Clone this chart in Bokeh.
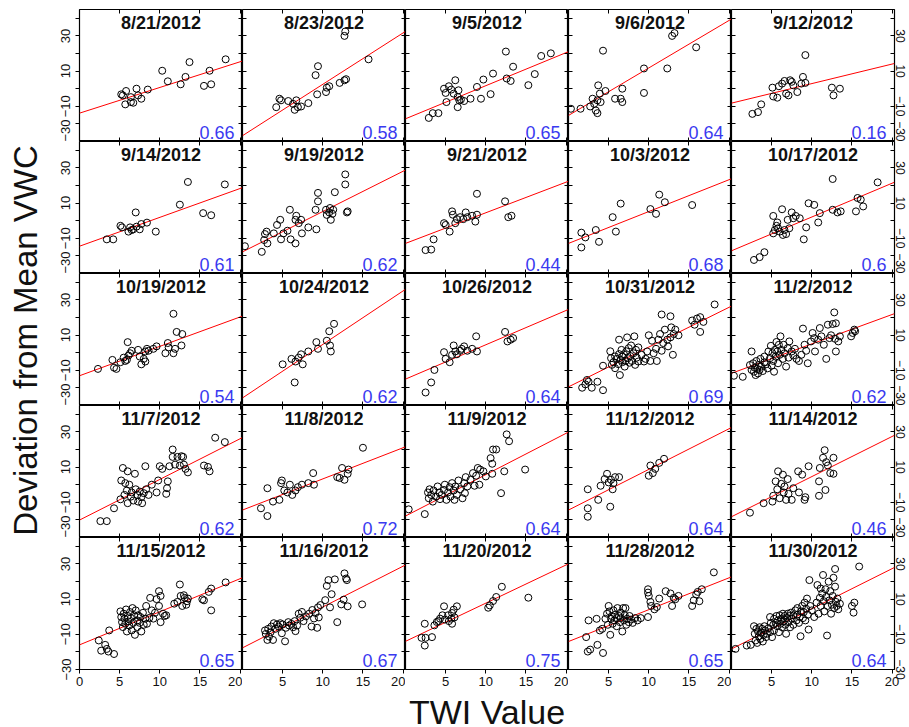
import math
from bokeh.plotting import figure
from bokeh.models import LinearAxis, FixedTicker, Range1d, Label
from bokeh.layouts import gridplot, row, column
from bokeh.embed import file_html
from bokeh.resources import INLINE

FONT = "Liberation Sans"

dates = ["8/21/2012", "8/23/2012", "9/5/2012", "9/6/2012", "9/12/2012",
         "9/14/2012", "9/19/2012", "9/21/2012", "10/3/2012", "10/17/2012",
         "10/19/2012", "10/24/2012", "10/26/2012", "10/31/2012", "11/2/2012",
         "11/7/2012", "11/8/2012", "11/9/2012", "11/12/2012", "11/14/2012",
         "11/15/2012", "11/16/2012", "11/20/2012", "11/28/2012", "11/30/2012"]
r_values = ["0.66", "0.58", "0.65", "0.64", "0.16",
            "0.61", "0.62", "0.44", "0.68", "0.6",
            "0.54", "0.62", "0.64", "0.69", "0.62",
            "0.62", "0.72", "0.64", "0.64", "0.46",
            "0.65", "0.67", "0.75", "0.65", "0.64"]
fit_intercept = [-13.9, -26.7, -17.1, -15.2, -8.2,
                 -14.5, -17.7, -12.9, -12.9, -17.1,
                 -13.1, -25.7, -15.0, -19.4, -11.7,
                 -20.1, -14.4, -17.8, -14.4, -18.2,
                 -16.0, -17.7, -14.0, -14.1, -18.3]
fit_slope = [1.46, 2.92, 1.88, 2.70, 1.11,
             1.64, 2.29, 1.74, 1.81, 1.92,
             1.67, 3.04, 1.95, 2.26, 1.67,
             2.31, 1.77, 2.35, 2.31, 2.28,
             1.88, 2.32, 2.17, 1.81, 2.28]

x_ticks_first = [0, 5, 10, 15, 20]
x_ticks_other = [5, 10, 15, 20]
y_ticks = [-30, -10, 10, 30]
y_minor = [-20, 0, 20, 40]

pts_0821 = [(10.3, 10.2), (11.0, 4.2), (12.6, 2.5), (13.2, 6.7), (13.7, 15.1), (15.5, 1.6), (16.2, 10.2),
            (16.4, 2.5), (18.2, 16.7), (7.1, 0.0), (8.5, -0.5), (5.4, -3.8), (5.8, -1.3), (6.4, -4.8),
            (7.3, -3.8), (7.7, -5.7), (5.7, -8.9), (6.4, -7.6), (6.7, -8.0), (5.2, -3.2)]
pts_0823 = [(4.2, -10.5), (4.6, -5.7), (4.8, -6.6), (5.7, -7.0), (6.3, -8.6), (6.7, -6.6), (6.5, -12.0),
            (6.9, -10.5), (7.3, -10.1), (8.2, -8.2), (9.1, 7.7), (9.4, 12.8), (9.3, -3.2), (10.4, -1.9),
            (10.5, 0.6), (10.8, 1.4), (12.1, 3.3), (12.7, 4.8), (12.9, 5.4), (12.7, 30.0), (12.8, 32.5),
            (15.7, 16.7)]
pts_0905 = [(2.9, -16.6), (3.4, -13.9), (4.1, -13.9), (4.8, 0.0), (5.0, -2.4), (5.1, -7.6), (5.4, 1.4),
            (5.7, -0.5), (6.0, -2.8), (6.2, 4.8), (6.5, -4.7), (6.6, -0.9), (6.7, -6.6), (6.5, -10.5),
            (6.9, -6.2), (7.3, -7.0), (8.1, -5.7), (8.9, 1.0), (9.4, -5.7), (9.7, 5.2), (10.6, -3.1),
            (10.9, 8.6), (12.5, 21.1), (12.6, 5.8), (13.1, 4.4), (13.4, 12.5), (15.3, 2.0), (16.1, 8.3),
            (16.9, 18.6), (18.1, 20.1)]
pts_0906 = [(0.3, -11.4), (1.5, -11.4), (2.7, -10.1), (3.0, -5.7), (3.2, -8.6), (3.4, -12.4), (3.6, -13.9),
            (3.6, -6.6), (3.7, 1.9), (3.9, -2.8), (4.0, -7.6), (4.3, 21.6), (4.6, -1.3), (5.8, -5.7),
            (6.5, -5.7), (6.7, -7.6), (6.7, 0.0), (9.4, 11.5), (9.4, -2.4), (12.3, 11.5), (12.9, 30.0),
            (13.2, 31.6), (15.9, 23.5)]
pts_0912 = [(2.6, -14.3), (3.3, -13.3), (3.7, -8.9), (5.1, 0.6), (5.2, -4.4), (5.7, -5.1), (5.9, 1.4),
            (6.3, 2.9), (6.6, 4.4), (6.8, -2.8), (7.1, -3.8), (7.3, 4.8), (7.5, 3.9), (7.7, 1.9),
            (8.2, -1.9), (8.7, 2.9), (8.9, 6.7), (9.2, 19.1), (9.2, 3.3), (12.5, 0.6), (12.7, -3.8),
            (13.5, 0.0)]
pts_0914 = [(3.4, -10.6), (4.2, -10.6), (5.1, -2.9), (5.3, -3.8), (6.1, -6.2), (6.3, -3.8), (6.5, -5.3),
            (6.7, -4.9), (7.0, 4.7), (7.1, -3.4), (7.5, -4.9), (7.7, -1.9), (8.4, -1.1), (9.5, -6.2),
            (12.5, 9.1), (13.5, 22.0), (15.4, 4.3), (16.4, 3.1), (18.1, 20.6)]
pts_0919 = [(0.3, -14.5), (2.4, -17.7), (2.7, -11.0), (2.8, -7.6), (3.0, -6.2), (3.1, -12.9), (3.9, -7.2),
            (4.3, -2.4), (4.7, 0.5), (4.8, -10.6), (5.1, -7.2), (5.6, -5.7), (5.9, 6.2), (6.0, -10.6),
            (6.6, 0.5), (6.6, -12.9), (6.7, 2.8), (7.0, -1.4), (7.3, 0.5), (7.4, -7.2), (8.2, -3.8),
            (9.2, -4.9), (9.1, 6.2), (9.4, 11.0), (9.4, 15.8), (10.4, 6.2), (10.5, 3.3), (10.8, 4.7),
            (10.9, 7.2), (11.0, 0.5), (11.2, 3.9), (11.3, 6.2), (11.5, 16.2), (12.8, 26.3), (12.8, 20.6),
            (13.0, 4.7), (13.1, 5.3)]
pts_0921 = [(2.5, -16.7), (3.2, -16.4), (3.5, -10.6), (4.8, -1.4), (5.0, -2.4), (5.5, -6.2), (5.8, 5.3),
            (5.9, 3.4), (6.2, -1.4), (6.4, 0.9), (6.8, 2.0), (7.2, 0.9), (7.5, 4.7), (7.7, 2.0),
            (8.3, 2.8), (8.7, -0.5), (8.9, 15.3), (8.9, 3.4), (12.4, 11.0), (12.8, 2.0), (13.2, 2.8)]
pts_1003 = [(1.6, -6.8), (1.6, -15.2), (2.1, -9.5), (3.4, -5.3), (3.8, -12.0), (5.5, 2.0), (5.9, -6.2),
            (6.5, 9.7), (10.2, 6.6), (10.9, 3.9), (11.3, 14.8), (12.0, 10.5), (15.4, 8.9)]
pts_1017 = [(2.8, -22.3), (3.5, -20.7), (4.1, -17.9), (5.2, 2.7), (5.2, -7.2), (5.4, -5.3), (5.6, -2.9),
            (5.7, -1.0), (5.8, -4.3), (6.0, -6.2), (6.3, 6.5), (6.4, -8.1), (6.6, -5.3), (6.8, -7.6),
            (7.0, 0.5), (7.2, -4.3), (7.5, 4.7), (7.7, 1.4), (8.0, 2.7), (8.5, 1.4), (9.0, -10.6),
            (9.3, -3.8), (9.6, 9.9), (10.3, 9.0), (10.8, -1.0), (11.0, 4.3), (12.6, 23.7), (12.6, 6.2),
            (13.2, 4.7), (13.6, 5.3), (15.5, 5.3), (15.7, 12.9), (16.1, 12.0), (16.4, 8.1), (18.2, 21.8)]
pts_1019 = [(2.3, -9.2), (4.1, -4.1), (4.3, -8.5), (4.6, -9.2), (5.1, -5.4), (5.5, -2.8), (5.7, -4.7),
            (6.0, 6.0), (6.1, -1.6), (6.3, -0.3), (6.5, 1.1), (5.9, -4.1), (7.3, 1.6), (7.5, -2.2),
            (7.7, -6.6), (8.0, -3.5), (8.2, -5.0), (8.2, 0.7), (8.4, 2.2), (8.6, 1.1), (9.2, 2.2),
            (9.6, 3.6), (10.7, -0.3), (11.0, 5.5), (11.1, 3.0), (11.7, -0.3), (11.7, 22.1), (11.9, 2.2),
            (12.1, 11.8), (12.8, 10.6), (12.7, 4.1)]
pts_1024 = [(5.0, -6.6), (6.1, -3.5), (6.5, -16.9), (6.6, -5.0), (7.0, -2.8), (7.3, -0.9), (7.5, -6.6),
            (8.2, 0.7), (9.2, 6.0), (9.4, 2.2), (10.5, 6.8), (10.8, 12.2), (10.9, 4.1), (11.0, 0.7),
            (11.4, 16.4)]
pts_1026 = [(2.5, -22.6), (3.2, -16.9), (3.6, -9.8), (4.8, 0.3), (5.0, -3.5), (5.5, -5.4), (5.8, -1.2),
            (6.0, 4.1), (6.2, 0.7), (6.4, -0.9), (6.8, 1.1), (7.0, 2.2), (7.3, 3.6), (7.7, 1.1),
            (8.3, 2.2), (8.8, 9.3), (8.9, 0.7), (12.4, 11.8), (12.7, 6.4), (13.1, 7.4), (13.4, 8.3)]
pts_1031 = [(1.7, -19.9), (2.1, -18.0), (2.5, -16.5), (2.9, -19.9), (2.3, -15.5), (3.6, -16.5), (4.3, -21.3),
            (4.3, -7.4), (5.2, 0.8), (5.3, -3.1), (5.4, -6.9), (5.6, -5.4), (5.8, -2.1), (5.8, -8.8),
            (6.0, -3.5), (6.2, -6.5), (6.3, 7.4), (6.3, -0.8), (6.4, -12.7), (6.5, -4.1), (6.6, 1.6),
            (6.7, -2.2), (6.7, -5.4), (6.9, -0.9), (7.0, -7.9), (7.1, -4.7), (7.2, 0.8), (7.3, 8.7),
            (7.4, -3.1), (7.5, 2.6), (7.6, -5.7), (7.7, -1.9), (7.8, 4.1), (7.9, -4.7), (8.1, -0.3),
            (8.2, 9.3), (8.3, -6.9), (8.4, 1.6), (8.5, -2.8), (8.7, 3.0), (8.7, -5.0), (9.1, -1.2),
            (9.4, -5.0), (9.6, -3.5), (9.8, 0.7), (10.0, 9.9), (10.2, -4.7), (10.4, 6.8), (10.6, -0.3),
            (10.9, 2.2), (11.0, -4.7), (11.2, 7.4), (11.4, 10.6), (11.6, 21.7), (11.6, 1.1), (11.8, 5.5),
            (12.0, 13.1), (12.3, 7.4), (12.4, 3.6), (12.7, 20.7), (12.7, 8.7), (12.8, 14.4), (13.0, -1.2),
            (13.1, 10.6), (13.3, 13.1), (13.7, 9.9), (15.4, 18.3), (15.7, 15.9), (16.0, 19.4), (16.4, 11.8),
            (16.4, 20.2), (16.8, 17.5), (18.2, 27.4)]
pts_1102 = [(0.3, -13.1), (1.4, -13.7), (2.3, -7.0), (2.5, -9.8), (2.5, 0.7), (2.7, -6.0), (2.8, -10.8),
            (2.9, -8.5), (3.0, -12.7), (3.1, -4.7), (3.2, -9.2), (3.3, -11.8), (3.4, -7.0), (3.5, -9.8),
            (3.6, -3.5), (3.7, -7.9), (3.9, -10.4), (4.1, -5.4), (4.1, -2.2), (4.3, -6.6), (4.5, -8.9),
            (4.6, 0.7), (4.8, -3.1), (4.9, 3.9), (5.0, -7.4), (5.1, -0.3), (5.2, -4.7), (5.3, -10.8),
            (5.4, 1.6), (5.5, -2.2), (5.6, 6.1), (5.7, 0.7), (5.8, -6.0), (5.9, 4.5), (6.0, -1.2),
            (6.1, 9.3), (6.2, 1.6), (6.4, -3.5), (6.5, 4.5), (6.6, -0.3), (6.8, -7.9), (7.0, 2.6),
            (7.1, -2.8), (7.2, 6.4), (7.5, 0.7), (7.7, -1.6), (7.9, 2.2), (8.1, -3.5), (8.4, -4.7),
            (8.7, -1.2), (8.9, 13.7), (9.1, 4.5), (9.3, 1.1), (9.5, -6.0), (9.9, 6.4), (10.1, 11.2),
            (10.3, 8.3), (10.4, 0.7), (10.8, 7.4), (11.0, 14.0), (11.2, 9.3), (11.5, 4.5), (11.8, -3.5),
            (12.0, 15.9), (12.2, 8.3), (12.4, 9.9), (12.6, 16.3), (12.8, 22.9), (12.9, 7.9), (13.0, 16.7),
            (13.0, 0.7), (13.3, 6.4), (13.5, 9.3), (14.9, 9.3), (15.1, 11.2), (15.3, 13.1), (15.4, 12.2)]
pts_1107 = [(2.6, -20.7), (3.4, -20.7), (4.3, -13.4), (5.1, -8.3), (5.2, 2.4), (5.4, 9.5), (5.6, -5.8),
            (5.7, 0.9), (5.9, -3.3), (6.0, -10.5), (6.0, 7.6), (6.2, 0.0), (6.4, -6.8), (6.5, -4.4),
            (6.7, -9.0), (6.9, 6.2), (7.0, -2.6), (7.2, -5.8), (7.3, -9.6), (7.5, -3.9), (7.7, -7.1),
            (7.8, -10.5), (8.0, -4.8), (8.2, 10.5), (8.3, -2.6), (8.6, -5.8), (9.0, 0.0), (9.6, -4.4),
            (9.8, 2.4), (10.0, 10.5), (10.3, 9.0), (10.8, -5.2), (10.9, -2.0), (11.0, 1.9), (11.2, 10.5),
            (11.6, 20.0), (11.6, 15.8), (11.9, 11.4), (12.2, 15.8), (12.5, 10.9), (12.7, 16.2), (12.9, 15.8),
            (13.0, 11.4), (13.2, 9.0), (13.5, 7.0), (15.5, 10.9), (16.0, 10.1), (16.2, 7.6), (16.9, 26.7),
            (18.1, 24.2)]
pts_1108 = [(2.3, -13.4), (3.1, -17.8), (3.1, -2.0), (3.8, -9.6), (4.6, -8.6), (4.8, 0.9), (4.9, 2.4),
            (5.2, -3.3), (5.6, -4.4), (5.9, 0.0), (6.2, -5.8), (6.6, -3.3), (6.9, -1.4), (7.4, 0.0),
            (8.2, 0.9), (8.8, 6.6), (8.9, 0.0), (11.8, 4.3), (12.1, 3.8), (12.4, 9.5), (12.7, 2.8),
            (13.1, 6.2), (13.2, 8.6), (15.0, 21.0)]
pts_1109 = [(0.4, -14.0), (2.4, -16.7), (2.8, -4.4), (2.9, -7.7), (3.0, -2.6), (3.2, -5.8), (3.4, -9.6),
            (3.5, -3.3), (3.8, -6.8), (4.0, -1.0), (4.2, -4.4), (4.3, -8.2), (4.5, -5.8), (4.8, -3.0),
            (4.9, 0.0), (5.1, -8.6), (5.3, -4.4), (5.5, -1.4), (5.6, -6.8), (5.8, 0.9), (6.0, -3.3),
            (6.1, -8.6), (6.2, -1.0), (6.4, -5.8), (6.6, 2.4), (6.8, -2.6), (7.1, -7.7), (7.3, 0.9),
            (7.4, -4.8), (7.5, 4.3), (7.7, -1.0), (8.1, 2.8), (8.4, 6.6), (8.6, -0.6), (8.8, 5.1),
            (9.0, 9.5), (9.2, 0.0), (9.3, 8.6), (9.7, 7.6), (10.0, 4.7), (10.6, 15.1), (10.8, 11.9),
            (10.8, 6.2), (10.9, 20.0), (11.3, 20.0), (11.9, -4.8), (12.3, 7.6), (12.6, 28.6), (12.9, 24.7),
            (14.9, 8.6)]
pts_1112 = [(2.4, -2.6), (2.4, -13.4), (2.4, -18.2), (3.7, -8.6), (4.0, -0.6), (4.5, 3.2), (4.8, 6.2),
            (5.0, 1.3), (5.2, -12.5), (5.3, 2.8), (5.5, -2.6), (5.6, 0.9), (5.8, 4.3), (6.3, 4.3),
            (10.0, 5.1), (10.2, 10.9), (10.5, 6.6), (10.8, 9.0), (11.3, 12.4), (11.9, 14.7)]
pts_1114 = [(2.3, -15.9), (4.0, -10.5), (5.1, -9.6), (5.2, -6.3), (5.5, 1.9), (5.7, -2.6), (5.8, 7.6),
            (6.0, -7.7), (6.2, 0.5), (6.4, 5.7), (6.5, -4.4), (6.6, -1.0), (6.8, -8.6), (7.0, 3.2),
            (7.1, -5.2), (7.5, -8.6), (7.7, -2.0), (8.3, 7.6), (8.4, -4.4), (8.8, 5.7), (9.1, -8.6),
            (9.2, -7.1), (9.6, 10.5), (10.9, 1.9), (10.9, -6.3), (11.0, 9.5), (11.4, 15.3), (11.6, 19.6),
            (11.7, -3.0), (11.8, 12.8), (12.0, 10.9), (12.3, 6.6), (12.7, 15.3), (12.7, 6.2)]
pts_1115 = [(2.4, -13.5), (2.7, -19.3), (3.2, -16.0), (3.4, -18.3), (3.6, -19.8), (4.3, -21.2), (3.7, -7.8),
            (5.1, 3.0), (5.2, -0.2), (5.3, -3.1), (5.4, -5.9), (5.5, 1.7), (5.6, -1.1), (5.7, -4.0),
            (5.8, 4.1), (5.9, -8.4), (6.0, 0.4), (6.1, -2.7), (6.2, -5.0), (6.3, 2.6), (6.4, -0.7),
            (6.5, -7.8), (6.6, 4.9), (6.7, -3.5), (6.8, 0.8), (6.9, -10.3), (7.0, 3.6), (7.2, -2.1),
            (7.2, -5.9), (7.3, 0.8), (7.5, -3.5), (7.6, -0.2), (7.7, -8.4), (7.9, 2.2), (8.0, -4.6),
            (8.2, -1.1), (8.3, 6.1), (8.4, -4.0), (8.7, -0.7), (8.8, 10.7), (9.0, 3.6), (9.2, -1.1),
            (9.4, 2.2), (9.6, 10.0), (9.9, 14.5), (9.9, 6.1), (10.1, -3.1), (10.1, 11.8), (10.4, 1.7),
            (10.6, 0.4), (10.8, 0.8), (11.8, 7.4), (12.2, 8.4), (12.5, 18.3), (12.6, 11.8), (12.8, 6.1),
            (13.0, 12.2), (13.1, 10.7), (13.3, 6.8), (13.4, 8.8), (13.5, 10.3), (15.3, 9.9), (15.5, 9.3),
            (16.1, 14.1), (16.4, 16.0), (16.4, 3.6), (18.2, 19.5)]
pts_1116 = [(2.8, -7.8), (2.9, -9.8), (3.1, -13.2), (3.2, -6.9), (3.3, -11.3), (3.5, -8.8), (3.6, -5.6),
            (3.8, -13.2), (3.9, -3.7), (4.1, -6.9), (4.3, -4.4), (4.5, -5.6), (4.7, -3.7), (4.9, -9.4),
            (5.0, -4.4), (5.3, -14.0), (5.4, -6.3), (5.7, -3.1), (5.8, -5.0), (6.1, -4.1), (6.3, -6.0),
            (6.5, -2.5), (6.6, -8.2), (6.8, -5.0), (7.0, 1.7), (7.2, -0.6), (7.4, 2.7), (7.6, -2.5),
            (7.9, 0.2), (8.3, 1.7), (8.6, -5.6), (8.7, 3.8), (8.9, -1.0), (9.1, 2.1), (9.3, -6.3),
            (9.4, 5.3), (9.5, -0.4), (9.7, 6.6), (10.3, 9.4), (10.5, 17.5), (10.7, 20.8), (10.9, 5.3),
            (11.1, 12.8), (11.5, 21.2), (11.8, -3.1), (12.3, 7.0), (12.6, 9.7), (12.7, 24.6), (12.9, 21.7),
            (13.0, 20.8), (13.1, 5.9), (14.9, 7.0)]
pts_1120 = [(2.0, -12.0), (2.4, -16.4), (2.4, -4.0), (2.5, -12.0), (3.3, -11.6), (3.6, -4.9), (3.9, -3.0),
            (4.1, -2.5), (4.3, -1.1), (4.6, 0.8), (4.8, 5.9), (4.9, -1.6), (5.3, 0.8), (5.4, -2.5),
            (5.7, -1.1), (5.8, -4.0), (5.8, 2.1), (6.0, 4.0), (6.1, -0.4), (6.4, 5.9), (10.3, 5.1),
            (10.5, 6.4), (10.9, 8.9), (11.3, 11.2), (12.0, 17.0), (15.3, 10.8)]
pts_1128 = [(2.2, -11.6), (2.4, -19.8), (2.5, -2.1), (2.7, -18.7), (3.5, -1.2), (3.6, -16.0), (3.9, -7.8),
            (4.3, -20.6), (4.2, -6.9), (4.6, -1.2), (4.8, 1.7), (4.9, -4.6), (5.0, 6.1), (5.1, 3.0),
            (5.2, -10.3), (5.3, -1.2), (5.4, 0.4), (5.5, -4.0), (5.6, 3.6), (5.7, -2.1), (5.8, 1.1),
            (6.0, -0.8), (6.0, -5.4), (6.1, 4.9), (6.3, 0.4), (6.4, -3.1), (6.5, 2.3), (6.5, -0.8),
            (6.7, -8.4), (6.8, 4.9), (6.9, -2.1), (7.0, 0.8), (7.1, 4.9), (7.2, -4.6), (7.3, -1.2),
            (7.5, -3.1), (7.6, 0.4), (7.8, -1.6), (8.0, -3.5), (8.3, -0.8), (8.6, -2.1), (9.0, -0.8),
            (9.9, -0.2), (9.9, 15.6), (9.9, 13.7), (10.0, 11.8), (10.2, 8.4), (10.3, 6.1), (10.7, 4.2),
            (11.0, 5.5), (11.3, 10.3), (12.1, 14.5), (12.7, 13.2), (12.9, 6.1), (13.1, 10.7), (13.3, 9.9),
            (13.7, 11.8), (15.4, 6.1), (15.6, 9.3), (15.9, 12.6), (16.1, 14.1), (16.3, 8.8), (16.6, 15.6),
            (18.1, 25.2)]
pts_1130 = [(0.5, -18.3), (1.9, -16.4), (2.4, -16.0), (2.8, -5.4), (2.9, -9.7), (3.0, -13.5), (3.1, -6.9),
            (3.2, -14.9), (3.3, -8.4), (3.4, -11.1), (3.5, -6.0), (3.6, -12.6), (3.7, -9.2), (3.8, -6.9),
            (3.9, -14.1), (4.0, -10.3), (4.1, -5.4), (4.2, -7.8), (4.3, -11.6), (4.4, -9.7), (4.6, -6.5),
            (4.8, -0.2), (4.8, -8.8), (4.9, -3.5), (5.05, -11.6), (5.2, -4.6), (5.3, -1.2), (5.3, -7.8),
            (5.5, -3.5), (5.6, 0.4), (5.7, -5.4), (5.8, -2.1), (5.9, -8.8), (6.0, 0.8), (6.1, -4.0),
            (6.2, -1.2), (6.3, -6.0), (6.4, 1.7), (6.5, -2.7), (6.6, 0.4), (6.7, -4.6), (6.8, -9.7),
            (6.9, -0.8), (7.0, 1.7), (7.1, -3.1), (7.2, 0.4), (7.3, -6.0), (7.4, 2.3), (7.5, -1.2),
            (7.7, -4.6), (7.7, 0.8), (7.95, 3.6), (8.1, -2.1), (8.2, 1.1), (8.2, 4.9), (8.4, -3.5),
            (8.5, -0.2), (8.6, -11.1), (8.65, 3.0), (8.8, 6.1), (8.9, -0.8), (9.0, 2.6), (9.1, 8.0),
            (9.2, -2.1), (9.3, 4.5), (9.4, 10.3), (9.5, 1.1), (9.6, -7.3), (9.7, 20.8), (9.8, 6.1),
            (10.0, 3.6), (10.3, -0.2), (10.6, 8.0), (10.7, 18.0), (10.85, 1.7), (11.0, 10.7), (11.1, 16.0),
            (11.1, 6.1), (11.3, 13.2), (11.4, 23.7), (11.5, 8.8), (11.55, 3.0), (11.7, 15.6), (11.8, 11.2),
            (11.9, -10.7), (11.97, 6.1), (12.1, 19.9), (12.2, 9.3), (12.3, 14.5), (12.4, 1.7), (12.5, 6.8),
            (12.6, 11.8), (12.7, 22.1), (12.8, 4.9), (12.9, 17.1), (12.9, 27.1), (13.0, 8.4), (13.1, 6.1),
            (13.2, 10.3), (13.3, 4.2), (13.5, 7.4), (15.0, 6.1), (15.2, 2.3), (15.3, 8.0), (15.9, 28.5)]

panel_points = [pts_0821, pts_0823, pts_0905, pts_0906, pts_0912,
                pts_0914, pts_0919, pts_0921, pts_1003, pts_1017,
                pts_1019, pts_1024, pts_1026, pts_1031, pts_1102,
                pts_1107, pts_1108, pts_1109, pts_1112, pts_1114,
                pts_1115, pts_1116, pts_1120, pts_1128, pts_1130]

X_LO, X_HI = 0, 20.3
Y_LO, Y_HI = -30, 45

FW, FH = 163, 132
LAB_W = 44
b_left, b_right, b_top, b_bottom = 35, 15, 9, 22
col_w = [b_left + FW, FW, FW, FW, FW + b_right]
row_h = [b_top + FH, FH, FH, FH, FH + b_bottom]


def axis(ticker, labeled, out, standoff=5, orient="horizontal", size="13px"):
    kw = dict(ticker=ticker, axis_line_color=None,
              major_tick_line_color="black", minor_tick_line_color="black",
              major_tick_line_width=1, minor_tick_line_width=1)
    if out:
        kw.update(major_tick_in=0, major_tick_out=4, minor_tick_in=0, minor_tick_out=4)
    else:
        kw.update(major_tick_in=4, major_tick_out=0, minor_tick_in=4, minor_tick_out=0)
    if labeled:
        kw.update(major_label_text_font=FONT, major_label_text_font_size=size,
                  major_label_text_color="#111111", major_label_standoff=standoff,
                  major_label_orientation=orient)
    else:
        kw.update(major_label_text_font_size="0px", major_label_standoff=0)
    return LinearAxis(**kw)


grid = []
for i in range(25):
    r, c = divmod(i, 5)
    p = figure(width=col_w[c], height=row_h[r],
               x_range=Range1d(X_LO, X_HI), y_range=Range1d(Y_LO, Y_HI),
               output_backend="svg", toolbar_location=None,
               x_axis_location=None, y_axis_location=None,
               min_border_left=b_left if c == 0 else 0,
               min_border_right=b_right if c == 4 else 0,
               min_border_top=b_top if r == 0 else 0,
               min_border_bottom=b_bottom if r == 4 else 0,
               outline_line_color="black", outline_line_width=1.2)
    p.grid.grid_line_color = None

    p.add_layout(axis(FixedTicker(ticks=y_ticks, minor_ticks=y_minor), c == 0, c == 0, 5,
                      "vertical"), "left")
    p.add_layout(axis(FixedTicker(ticks=y_ticks, minor_ticks=y_minor), c == 4, False, 1,
                      "vertical", "12px"), "right")
    p.add_layout(axis(FixedTicker(ticks=x_ticks_first if c == 0 else x_ticks_other),
                      r == 4, r == 4, 3), "below")
    p.add_layout(axis(FixedTicker(ticks=x_ticks_other), False, False), "above")

    a, b = fit_intercept[i], fit_slope[i]
    p.line([X_LO, X_HI], [a + b * X_LO, a + b * X_HI], line_color="red", line_width=1)

    xs = [q[0] for q in panel_points[i]]
    ys = [q[1] for q in panel_points[i]]
    p.scatter(xs, ys, marker="circle", size=7, fill_color=None,
              line_color="black", line_width=1)

    p.add_layout(Label(x=(X_LO + X_HI) / 2, y=Y_HI, y_offset=-3, text=dates[i],
                       text_align="center", text_baseline="top",
                       text_font=FONT, text_font_size="18px", text_font_style="bold",
                       text_color="#111111"))
    p.add_layout(Label(x=X_HI, y=Y_LO, x_offset=-8, y_offset=9, text=r_values[i],
                       text_align="right", text_baseline="alphabetic",
                       text_font=FONT, text_font_size="18px", text_color="#3a3af0"))
    grid.append(p)

gp = gridplot([grid[k:k + 5] for k in range(0, 25, 5)], toolbar_location=None)

total_h = sum(row_h)
total_w = sum(col_w)
ylab = figure(width=LAB_W, height=total_h, x_range=Range1d(0, LAB_W), y_range=Range1d(0, total_h),
              output_backend="svg", toolbar_location=None, min_border=0,
              x_axis_location=None, y_axis_location=None, outline_line_color=None)
ylab.grid.grid_line_color = None
ylab.add_layout(Label(x=25, y=total_h - 340, text="Deviation from Mean VWC", angle=math.pi / 2,
                      text_align="center", text_baseline="middle",
                      text_font=FONT, text_font_size="33px", text_color="#111111"))

xlab_h = 727 - total_h
xlab = figure(width=total_w, height=xlab_h, x_range=Range1d(0, total_w), y_range=Range1d(0, xlab_h),
              output_backend="svg", toolbar_location=None, min_border=0,
              x_axis_location=None, y_axis_location=None, outline_line_color=None)
xlab.grid.grid_line_color = None
xlab.add_layout(Label(x=b_left + 5 * FW / 2, y=16, text="TWI Value",
                      text_align="center", text_baseline="alphabetic",
                      text_font=FONT, text_font_size="34px", text_color="#111111"))

layout = row(ylab, column(gp, xlab))
open("out.html", "w").write(file_html(layout, INLINE))
